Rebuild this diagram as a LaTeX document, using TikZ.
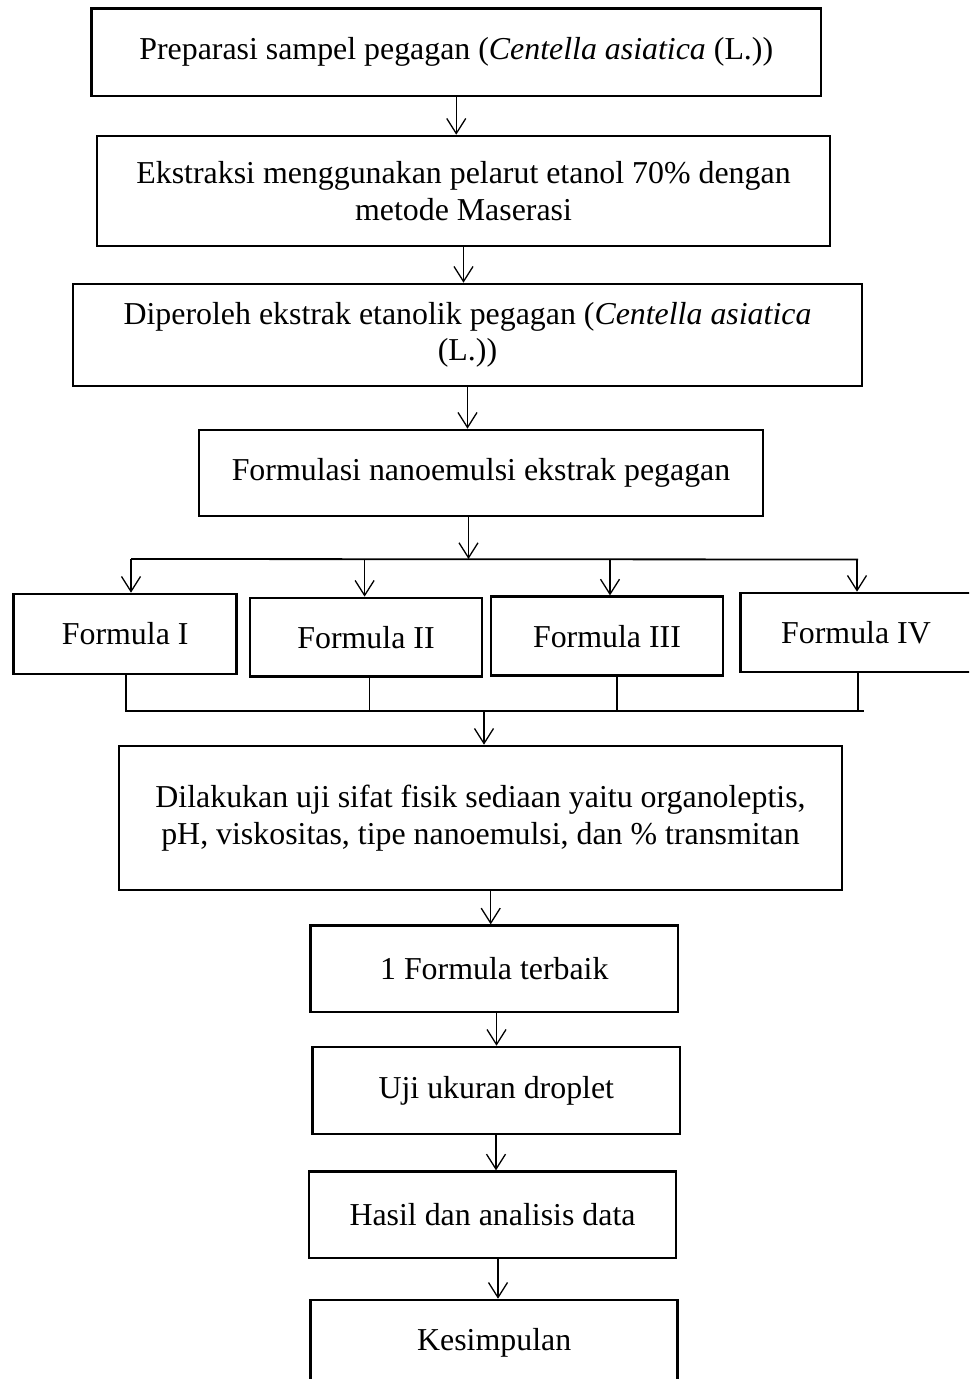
\documentclass[tikz,border=0pt]{standalone}
\usepackage{fontspec}
\setmainfont{Liberation Serif}
\usetikzlibrary{arrows.meta}
\tikzset{
  box/.style={draw, line width=2.6bp, inner sep=0pt, align=center, font=\fontsize{32}{36.5}\selectfont},
  arr/.style={line width=1.3bp, -{Straight Barb[length=15bp,width=19bp,line width=1.3bp]}},
  ln/.style={line width=1.3bp},
  hln/.style={line width=1.8bp}
}
\begin{document}
\begin{tikzpicture}[x=1bp,y=-1bp]
\clip (0,0) rectangle (969,1379);
\fill[white] (0,0) rectangle (969,1379);

\node[box, minimum width=729.5bp, minimum height=87.7bp] (b1) at (456.25,52.2) {Preparasi sampel pegagan (\textit{Centella asiatica} (L.))};
\node[box, minimum width=733bp, minimum height=110bp] (b2) at (463.5,191) {Ekstraksi menggunakan pelarut etanol 70\% dengan\\metode Maserasi};
\node[box, minimum width=789bp, minimum height=102bp] (b3) at (467.5,335) {Diperoleh ekstrak etanolik pegagan (\textit{Centella asiatica}\\(L.))};
\node[box, minimum width=564bp, minimum height=86bp] (b4) at (481,473) {Formulasi nanoemulsi ekstrak pegagan};

\node[box, minimum width=223bp, minimum height=80bp] (f1) at (125.2,634) {Formula I};
\node[box, minimum width=232bp, minimum height=78.7bp] (f2) at (366,637.3) {Formula II};
\node[box, minimum width=232bp, minimum height=79bp] (f3) at (607,636.2) {Formula III};
\node[box, minimum width=231.2bp, minimum height=79bp] (f4) at (856,632.5) {Formula IV};

\node[box, minimum width=723bp, minimum height=144bp] (b5) at (480.5,818) {Dilakukan uji sifat fisik sediaan yaitu organoleptis,\\pH, viskositas, tipe nanoemulsi, dan \% transmitan};
\node[box, minimum width=367.3bp, minimum height=86.3bp] (b6) at (494.3,968.8) {1 Formula terbaik};
\node[box, minimum width=367.3bp, minimum height=87bp] (b7) at (496.3,1090.5) {Uji ukuran droplet};
\node[box, minimum width=367bp, minimum height=86.3bp] (b8) at (492.5,1214.8) {Hasil dan analisis data};
\node[box, minimum width=367bp, minimum height=86bp] (b9) at (494.2,1343) {Kesimpulan};

% junction coordinates
\coordinate (j1) at (468.5,559);
\coordinate (tl) at (131,559);
\coordinate (tr) at (858,559.5);
\coordinate (t2) at (364.6,559);
\coordinate (t3) at (610,559);
\coordinate (t4) at (857,559.5);
\coordinate (bl) at (125,710.7);
\coordinate (br) at (864,710.7);
\coordinate (c1) at (126,710.7);
\coordinate (c2) at (369.6,710.7);
\coordinate (c3) at (617,710.7);
\coordinate (c4) at (858,710.7);
\coordinate (j2) at (484,710.7);

% main chain
\draw[arr] (b1.south) -- (b1.south |- b2.north);
\draw[arr] (b2.south) -- (b2.south |- b3.north);
\draw[arr] (b3.south) -- (b3.south |- b4.north);
\draw[arr] (b4.south -| j1) -- (j1);

% branch
\draw[hln] (tl) -- (tr);
\draw[arr] (tl) -- (tl |- f1.north);
\draw[arr] (t2) -- (t2 |- f2.north);
\draw[arr] (t3) -- (t3 |- f3.north);
\draw[arr] (t4) -- (t4 |- f4.north);

% merge
\draw[ln] (f1.south -| c1) -- (c1);
\draw[ln] (f2.south -| c2) -- (c2);
\draw[ln] (f3.south -| c3) -- (c3);
\draw[ln] (f4.south -| c4) -- (c4);
\draw[hln] (bl) -- (br);
\draw[arr] (j2) -- (j2 |- b5.north);

\coordinate (k5) at (490.7,0);
\coordinate (k6) at (496.5,0);
\coordinate (k7) at (496,0);
\coordinate (k8) at (498,0);
\draw[arr] (b5.south -| k5) -- (b6.north -| k5);
\draw[arr] (b6.south -| k6) -- (b7.north -| k6);
\draw[arr] (b7.south -| k7) -- (b8.north -| k7);
\draw[arr] (b8.south -| k8) -- (b9.north -| k8);
\end{tikzpicture}
\end{document}
